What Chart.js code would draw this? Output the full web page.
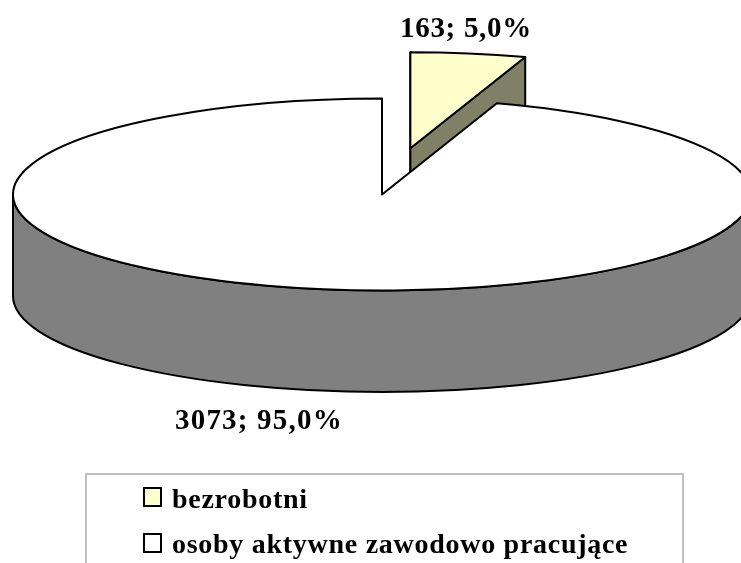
<!DOCTYPE html>
<html><head><meta charset="utf-8">
<style>html,body{margin:0;padding:0;background:#fff;overflow:hidden}#w{position:relative;width:741px;height:563px}</style>
<script src="https://cdn.jsdelivr.net/npm/chart.js@4"></script>
</head><body><div id="w"><canvas id="c" width="741" height="563"></canvas></div>
<script>
const categories = ['bezrobotni', 'osoby aktywne zawodowo pracujące'];
const seriesValues = [163, 3073];
const valueLabels = ['163; 5,0%', '3073; 95,0%'];
const faceColors = ['#ffffcc', '#ffffff'];
const wallColors = ['#808066', '#808080'];

const G = {cx:382, cy:194.5, rx:369, ry:96, depth:101.5, explode:180};

const pie3d = {
  id:'pie3d',
  beforeDatasetsDraw(chart){
    const ctx = chart.ctx, arcs = chart.getDatasetMeta(0).data;
    ctx.save();
    ctx.beginPath(); ctx.rect(0,0,741,563); ctx.clip();
    arcs.forEach((a,i)=>{
      const mid=(a.startAngle+a.endAngle)/2;
      const ex = i===0 ? G.explode : 0;
      const cx=G.cx+Math.cos(mid)*ex*(G.rx/369), cy=G.cy+Math.sin(mid)*ex*(G.ry/369);
      const s=a.startAngle, e=a.endAngle;
      const px=t=>cx+G.rx*Math.cos(t), py=t=>cy+G.ry*Math.sin(t);
      ctx.lineWidth=2; ctx.strokeStyle='#000'; ctx.lineJoin='round';
      ctx.fillStyle=wallColors[i];
      if(i===0){
        ctx.beginPath();
        ctx.moveTo(cx,cy); ctx.lineTo(px(s),py(s)); ctx.lineTo(px(s),py(s)+G.depth);
        ctx.lineTo(cx,cy+G.depth); ctx.closePath(); ctx.fill(); ctx.stroke();
        ctx.beginPath();
        ctx.moveTo(cx,cy); ctx.lineTo(px(e),py(e)); ctx.lineTo(px(e),py(e)+G.depth);
        ctx.lineTo(cx,cy+G.depth); ctx.closePath(); ctx.fill(); ctx.stroke();
      } else {
        ctx.beginPath();
        ctx.ellipse(cx,cy,G.rx,G.ry,0,0,Math.PI,false);
        ctx.lineTo(cx-G.rx,cy+G.depth);
        ctx.ellipse(cx,cy+G.depth,G.rx,G.ry,0,Math.PI,0,true);
        ctx.closePath(); ctx.fill(); ctx.stroke();
      }
      const k=G.rx/a.outerRadius, ky=G.ry/a.outerRadius;
      ctx.save();
      ctx.translate(cx,cy); ctx.scale(k,ky); ctx.translate(-a.x,-a.y);
      a.draw(ctx);
      ctx.restore();
      ctx.beginPath();
      ctx.moveTo(cx,cy);
      ctx.ellipse(cx,cy,G.rx,G.ry,0,s,e,false);
      ctx.closePath(); ctx.stroke();
    });
    ctx.restore();
    return false;
  },
  afterDraw(chart){
    const ctx=chart.ctx;
    ctx.save();
    ctx.fillStyle='#000'; ctx.textBaseline='alphabetic'; ctx.textAlign='left';
    ctx.font='bold 29px "Liberation Serif"';
    ctx.letterSpacing='0.7px';
    ctx.fillText(valueLabels[0],400,37);
    ctx.letterSpacing='1.2px';
    ctx.fillText(valueLabels[1],175,429);
    ctx.strokeStyle='#c0c0c0'; ctx.lineWidth=2;
    ctx.beginPath(); ctx.moveTo(86,563); ctx.lineTo(86,474); ctx.lineTo(683,474); ctx.lineTo(683,563); ctx.stroke();
    ctx.font='bold 28px "Liberation Serif"';
    ctx.letterSpacing='0.72px';
    const rows=[508,553];
    const boxes=[488,534];
    categories.forEach((c,i)=>{
      ctx.fillStyle=faceColors[i]; ctx.strokeStyle='#000'; ctx.lineWidth=2;
      ctx.fillRect(144,boxes[i],17,18); ctx.strokeRect(144,boxes[i],17,18);
      ctx.fillStyle='#000';
      ctx.fillText(c,172,rows[i]);
    });
    ctx.restore();
  }
};

new Chart(document.getElementById('c'),{
  type:'pie',
  data:{labels:categories,datasets:[{data:seriesValues,backgroundColor:faceColors,borderWidth:0}]},
  options:{responsive:false,animation:false,events:[],rotation:0,
    layout:{padding:0},
    plugins:{legend:{display:false},tooltip:{enabled:false}}},
  plugins:[pie3d]
});
</script></body></html>
